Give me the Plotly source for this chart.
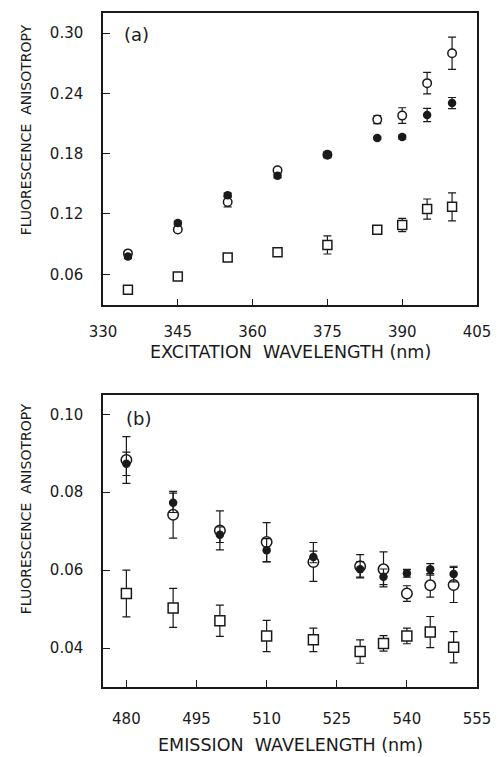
import plotly.graph_objects as go

# Panel (a): excitation
exc_x = [335, 345, 355, 365, 375, 385, 390, 395, 400]
exc_filled = [0.0776, 0.111, 0.1387, 0.158, 0.179, 0.1956, 0.1966, 0.2185, 0.2304]
exc_filled_err = [0.002, 0.002, 0.002, 0.002, 0.003, 0.001, 0.002, 0.0065, 0.0055]
exc_open = [0.0808, 0.1046, 0.132, 0.1635, 0.179, 0.2139, 0.2179, 0.2502, 0.2799]
exc_open_err = [0.002, 0.002, 0.005, 0.002, 0.002, 0.004, 0.0078, 0.0107, 0.016]
exc_square = [0.0445, 0.0577, 0.0766, 0.0818, 0.0892, 0.1043, 0.109, 0.1249, 0.1271]
exc_square_err = [0.002, 0.002, 0.003, 0.002, 0.009, 0.002, 0.0066, 0.010, 0.014]

# Panel (b): emission
em_x = [480, 490, 500, 510, 520, 530, 535, 540, 545, 550]
em_filled = [0.0873, 0.0773, 0.0691, 0.0651, 0.0634, 0.0602, 0.0583, 0.0592, 0.0602, 0.059]
em_filled_err = [0.003, 0.0025, 0.002, 0.003, 0.0015, 0.002, 0.002, 0.001, 0.0015, 0.002]
em_open = [0.0883, 0.0742, 0.0702, 0.0672, 0.0621, 0.061, 0.0602, 0.054, 0.0561, 0.0562]
em_open_err = [0.006, 0.006, 0.005, 0.005, 0.005, 0.003, 0.0045, 0.002, 0.003, 0.0045]
em_square = [0.054, 0.0503, 0.047, 0.0431, 0.0421, 0.0391, 0.0412, 0.0431, 0.0441, 0.0402]
em_square_err = [0.006, 0.005, 0.004, 0.004, 0.003, 0.003, 0.002, 0.002, 0.004, 0.004]

exc_ticks = [330, 345, 360, 375, 390, 405]
exc_yticks = [0.06, 0.12, 0.18, 0.24, 0.30]
em_ticks = [480, 495, 510, 525, 540, 555]
em_yticks = [0.04, 0.06, 0.08, 0.10]

INK = "#1a1a1a"
FONT = "DejaVu Sans"

def err(vals):
    return dict(type="data", array=vals, visible=True, color=INK, thickness=1.2, width=4)

fig = go.Figure()

def add_panel(x, op, ope, fi, fie, sq, sqe, xa, ya, osize, ssize):
    fig.add_trace(go.Scatter(x=x, y=sq, error_y=err(sqe), mode="markers", xaxis=xa, yaxis=ya,
                             marker=dict(symbol="square", size=ssize, color="white", line=dict(color=INK, width=1.5)),
                             showlegend=False))
    fig.add_trace(go.Scatter(x=x, y=op, error_y=err(ope), mode="markers", xaxis=xa, yaxis=ya,
                             marker=dict(symbol="circle", size=osize, color="white", line=dict(color=INK, width=1.5)),
                             showlegend=False))
    fig.add_trace(go.Scatter(x=x, y=fi, error_y=err(fie), mode="markers", xaxis=xa, yaxis=ya,
                             marker=dict(symbol="circle", size=8.5, color=INK, line=dict(color=INK, width=0)),
                             showlegend=False))

add_panel(exc_x, exc_open, exc_open_err, exc_filled, exc_filled_err, exc_square, exc_square_err, "x", "y", 8.5, 9)
add_panel(em_x, em_open, em_open_err, em_filled, em_filled_err, em_square, em_square_err, "x2", "y2", 10.5, 10)

axis_common = dict(showline=True, linecolor=INK, linewidth=1.5, mirror=True, ticks="inside",
                   ticklen=7, tickwidth=1.2, tickcolor=INK, showgrid=False, zeroline=False,
                   tickfont=dict(family=FONT, size=15, color=INK))

W, H = 502, 757
L, R, T, B = 103, 17, 11, 70
pw, ph = W - L - R, H - T - B

def px(x):
    return (x - L) / pw

def py(y):
    return (H - B - y) / ph

def note(text, x, y, size, angle=0, xanchor="center"):
    return dict(text=text, x=px(x), y=py(y), xref="paper", yref="paper", showarrow=False,
                textangle=angle, xanchor=xanchor, yanchor="middle",
                font=dict(family=FONT, size=size, color=INK))

fig.update_layout(
    width=W, height=H,
    margin=dict(l=L, r=R, t=T, b=B),
    plot_bgcolor="white", paper_bgcolor="white",
    font=dict(family=FONT, color=INK),
    xaxis=dict(axis_common, domain=[0, 1], range=[330, 405], tickvals=exc_ticks, anchor="y",
               ticklabelstandoff=12),
    yaxis=dict(axis_common, domain=[py(304.3), 1.0], range=[0.029, 0.32], tickvals=exc_yticks,
               tickformat=".2f", anchor="x", ticklabelstandoff=15),
    xaxis2=dict(axis_common, domain=[0, 1], range=[475, 555], tickvals=em_ticks, anchor="y2",
                ticklabelstandoff=17),
    yaxis2=dict(axis_common, domain=[0, py(394)], range=[0.03, 0.105], tickvals=em_yticks,
                tickformat=".2f", anchor="x2", ticklabelstandoff=15),
    annotations=[
        note("(a)", 122, 33, 18, xanchor="left"),
        note("(b)", 124, 418, 18, xanchor="left"),
        note("EXCITATION  WAVELENGTH (nm)", 294, 351, 17.5),
        note("EMISSION  WAVELENGTH (nm)", 294, 745, 17.5),
        note("FLUORESCENCE  ANISOTROPY", 24, 128, 14, angle=-90),
        note("FLUORESCENCE  ANISOTROPY", 24, 508, 14, angle=-90),
    ],
)

fig.write_html("out.html", config={"displayModeBar": False},
               post_script="document.body.style.margin='0';document.body.style.overflow='hidden';")
